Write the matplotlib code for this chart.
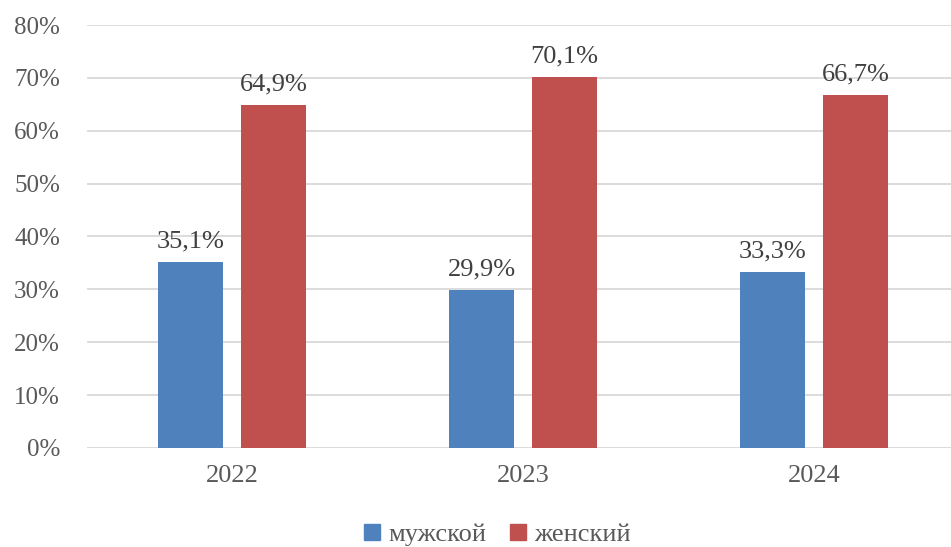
import numpy as np
import matplotlib
matplotlib.use('Agg')
import matplotlib.pyplot as plt
from matplotlib.patches import Patch

years = ['2022', '2023', '2024']
male = [35.1, 29.9, 33.3]
female = [64.9, 70.1, 66.7]
series_names = ['мужской', 'женский']
colors = ['#4F81BD', '#C0504D']

plt.rcParams['font.family'] = ['Liberation Serif', 'DejaVu Serif']

fig = plt.figure(figsize=(9.51, 5.47), dpi=100)
W, H = 951, 547
left, right = 86.5, 959.5
bottom, top = 448, 25
ax = fig.add_axes([left / W, 1 - bottom / H, (right - left) / W, (bottom - top) / H])

x = np.arange(len(years))
w = 65 / 291
off = (65 + 18) / 2 / 291
for vals, dx, c in [(male, -off, colors[0]), (female, off, colors[1])]:
    bars = ax.bar(x + dx, vals, width=w, color=c, zorder=3)
    for b, v in zip(bars, vals):
        ax.annotate(f'{v:.1f}%'.replace('.', ','), (b.get_x() + b.get_width() / 2, v),
                    xytext=(0, 7), textcoords='offset points', ha='center', va='bottom',
                    fontsize=19, color='#404040')

ax.set_xlim(-0.5, 2.5)
ax.set_ylim(0, 80)
ax.set_yticks(range(0, 81, 10))
ax.set_yticklabels([f'{t}%' for t in range(0, 81, 10)])
ax.set_xticks(x)
ax.set_xticklabels(years)
ax.yaxis.grid(True, color='#D9D9D9', linewidth=1.3, zorder=0)
for s in ax.spines.values():
    s.set_visible(False)
ax.tick_params(axis='both', length=0, labelcolor='#595959')
ax.tick_params(axis='y', labelsize=18, pad=19)
ax.tick_params(axis='x', labelsize=19, pad=12)

handles = [Patch(color=c) for c in colors]
fig.legend(handles, series_names, loc='center', bbox_to_anchor=(0.523, 1 - 535 / H),
           ncol=2, frameon=False, fontsize=19, labelcolor='#595959',
           handlelength=0.6, handleheight=0.6, handletextpad=0.3, columnspacing=0.9)

fig.savefig('out.png', dpi=100)
